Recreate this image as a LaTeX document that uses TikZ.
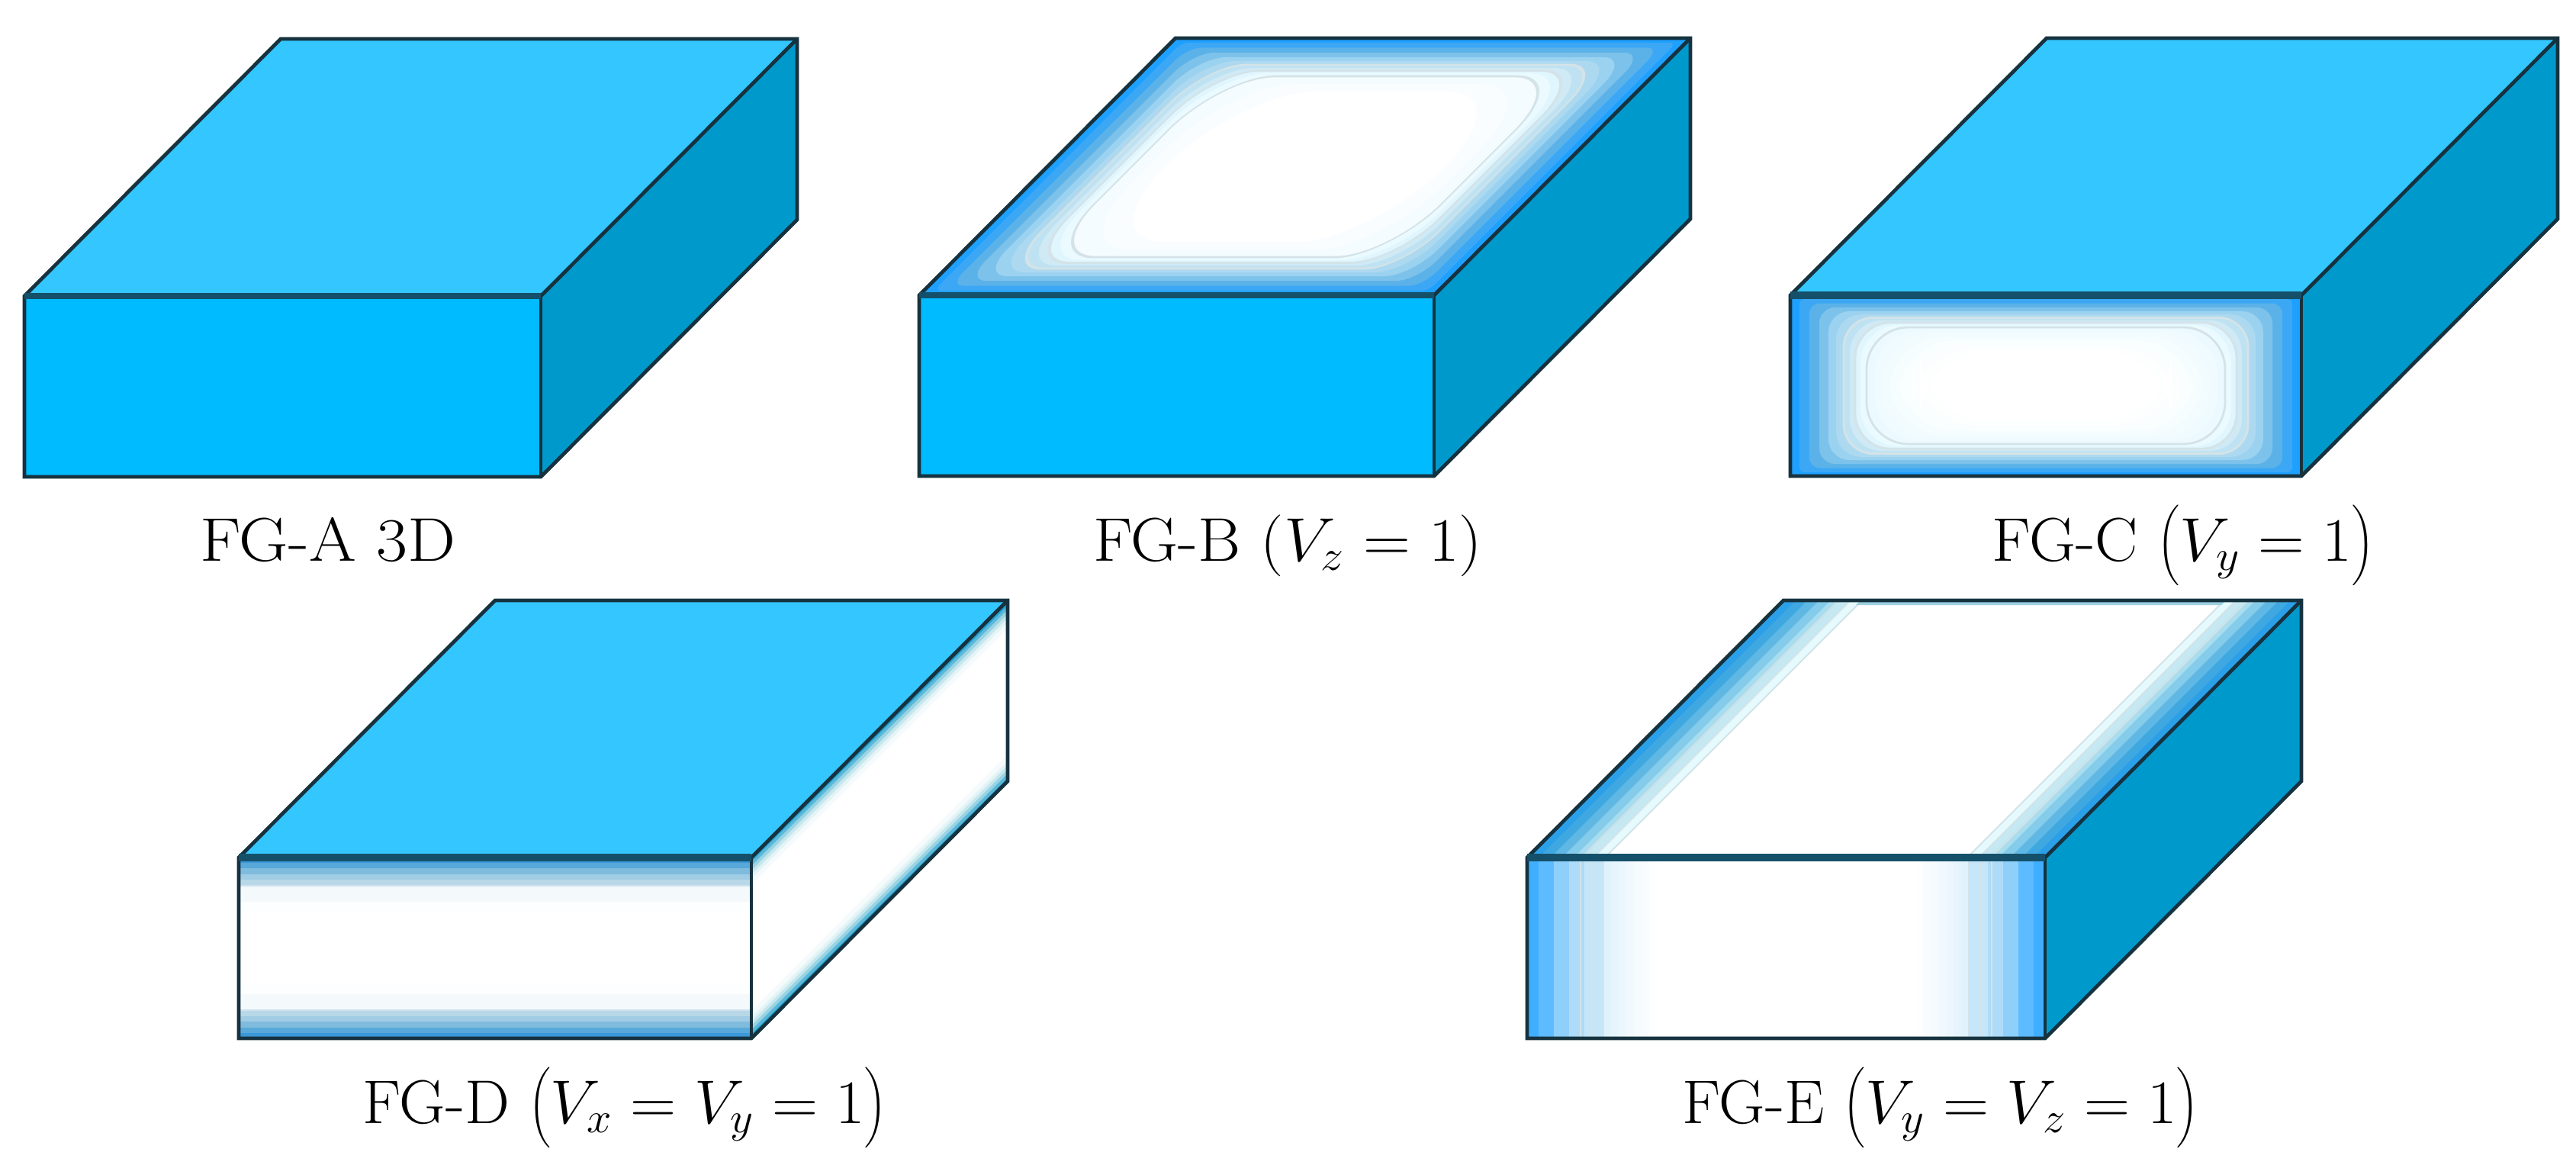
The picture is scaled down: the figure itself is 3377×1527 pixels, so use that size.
\documentclass[tikz,border=0pt]{standalone}
\usepackage{fix-cm}
\definecolor{topblue}{HTML}{33C6FF}
\definecolor{frontblue}{HTML}{00BBFF}
\definecolor{sideblue}{HTML}{0099CC}
\definecolor{edgedark}{HTML}{16323F}
\definecolor{edgetop}{HTML}{15506A}
\definecolor{contourgrey}{HTML}{D3E3E8}
% vivid stops
\definecolor{a0}{HTML}{1EA0FF}\definecolor{a1}{HTML}{3CA8F5}\definecolor{a2}{HTML}{5BB2E8}
\definecolor{a3}{HTML}{7DC2EA}\definecolor{a4}{HTML}{9BD2F0}\definecolor{a5}{HTML}{ADD9F0}
\definecolor{a6}{HTML}{BFE2F2}\definecolor{a7}{HTML}{CFE9F5}\definecolor{a8}{HTML}{E0F6FE}
\definecolor{a9}{HTML}{EAFAFF}\definecolor{a10}{HTML}{F5FCFF}\definecolor{a11}{HTML}{FAFDFF}
\definecolor{a12}{HTML}{FDFEFF}
% muted stops (FG-D)
\definecolor{d0}{HTML}{3A98D8}\definecolor{d1}{HTML}{58A8DA}\definecolor{d2}{HTML}{7FBBDD}
\definecolor{d3}{HTML}{A0CCE4}\definecolor{d4}{HTML}{B8D8E8}\definecolor{d5}{HTML}{CFE2EE}
\definecolor{d8}{HTML}{F4F9FB}
% FG-D side face stops
\definecolor{s0}{HTML}{1E9FD0}\definecolor{s1}{HTML}{5BB8D8}\definecolor{s2}{HTML}{9AD4E4}
\definecolor{s3}{HTML}{C6E7EE}\definecolor{s4}{HTML}{E4F4F6}\definecolor{s5}{HTML}{F5FBFC}
% FG-E front stops
\definecolor{f0}{HTML}{40AEFF}\definecolor{f1}{HTML}{5DBBFF}\definecolor{f2}{HTML}{8FD0FA}
\definecolor{f3}{HTML}{AEDBF7}\definecolor{f4}{HTML}{C5E6F8}\definecolor{f5}{HTML}{E0F2FC}
% FG-E top stops
\definecolor{e0}{HTML}{2BA0E8}\definecolor{e1}{HTML}{3FA8E0}\definecolor{e2}{HTML}{5FB8E4}
\definecolor{e3}{HTML}{85CBEA}\definecolor{e4}{HTML}{A8DCEF}\definecolor{e5}{HTML}{C4E9F2}
\definecolor{e6}{HTML}{E5FAFC}\definecolor{backpale}{HTML}{9CCFE0}
\def\stopsA{0/a0,0.12/a1,0.25/a2,0.38/a3,0.5/a4,0.6/a5,0.7/a6,0.78/a7,0.85/a8,0.92/a9,1/a10,1.2/a11,1.4/white}
\def\stopsC{0/a0,0.12/a1,0.25/a2,0.38/a3,0.5/a4,0.6/a5,0.7/a6,0.78/a7,0.85/a8,0.92/a9,1/a9!90!white,1.1/a9!75!white,1.2/a9!60!white,1.3/a9!45!white,1.4/a9!30!white,1.5/a9!20!white,1.6/a9!10!white,1.7/white}
\def\stopsT{0/e0,0.15/e1,0.3/e2,0.45/e3,0.6/e4,0.72/e5,0.85/e6,1/white}
\def\stopsF{0/f0,0.15/f1,0.35/f2,0.55/f3,0.75/f4,1/f5,1.1/f5!80!white,1.2/f5!60!white,1.3/f5!45!white,1.4/f5!30!white,1.5/f5!20!white,1.6/f5!10!white,1.7/white}
\def\stopsD{0/d0,0.2/d1,0.4/d2,0.6/d3,0.8/d4,1/d5,1.05/d8,1.6/a12,2/white}
\def\stopsS{0/s0,0.2/s1,0.4/s2,0.6/s3,0.8/s4,1/s5,1.3/white}
\tikzset{
  px/.style={x=0.01cm,y=-0.01cm},
  facetop/.style={fill=topblue},
  facefront/.style={fill=frontblue},
  faceside/.style={fill=sideblue},
  edgeline/.style={draw=edgedark,line width=1.35pt,line join=miter,fill=none},
  edgethick/.style={draw=edgetop,line width=2.1pt},
  edgewide/.style={draw=edgetop,line width=2.8pt},
  backband/.style={fill=backpale},
  contourline/.style={draw=contourgrey,line width=0.8pt,fill=none},
  caption/.style={inner sep=0pt,anchor=base,font=\fontsize{23}{28}\selectfont},
}
\newcommand{\tallstrut}{\rule[-0.4em]{0pt}{1.3em}}
% W H ix iy rmax stoplist
\newcommand{\nestbands}[6]{%
  \foreach \t/\c in #6 {%
    \pgfmathsetmacro{\dx}{\t*#3}\pgfmathsetmacro{\dy}{\t*#4}\pgfmathsetmacro{\rr}{0.2845*\t*#5}%
    \fill[fill=\c,rounded corners=\rr pt] (\dx,\dy) rectangle ({#1-\dx},{#2-\dy});
  }%
}
\newcommand{\nestlines}[5]{%
  \foreach \t in {0.7,0.85,1} {%
    \pgfmathsetmacro{\dx}{\t*#3}\pgfmathsetmacro{\dy}{\t*#4}\pgfmathsetmacro{\rr}{0.2845*\t*#5}%
    \draw[contourline,rounded corners=\rr pt] (\dx,\dy) rectangle ({#1-\dx},{#2-\dy});
  }%
}
% X(front left) Y(front top) W
\newcommand{\boxfaces}[3]{%
  \fill[facetop] (#1,#2) -- ++(336,-337) -- ++(#3,0) -- ++(-336,337) -- cycle;
  \fill[facefront] (#1,#2) rectangle ++(#3,237);
  \fill[faceside] ({#1+#3},#2) -- ++(336,-337) -- ++(0,237) -- ++(-336,337) -- cycle;
}
\newcommand{\boxedges}[3]{%
  \draw[edgeline] (#1,#2) -- ++(336,-337) -- ++(#3,0) -- ++(0,237) -- ++(-336,337) -- ++(-#3,0) -- cycle;
  \draw[edgeline] ({#1+#3},#2) -- ++(336,-337);
  \draw[edgeline] ({#1+#3},#2) -- ++(0,237);
  \draw[edgethick] (#1,#2) -- ++(#3,0);
}
\begin{document}
\begin{tikzpicture}[px]
\useasboundingbox (0,0) rectangle (3377,1527);
% FG-A
\boxfaces{32}{388}{677}
\boxedges{32}{388}{677}
\node[caption] (capA) at (430,735) {\scalebox{1.1}[1]{FG-A 3D}};
% FG-B
\boxfaces{1205}{387}{675}
\begin{scope}[transform canvas={shift={(1205,50)},xslant=1}]
  \begin{scope}[shift={(337,0)}]
  \nestbands{675}{337}{110}{50}{70}{\stopsA}
  \nestlines{675}{337}{110}{50}{70}
  \end{scope}
\end{scope}
\boxedges{1205}{387}{675}
\node[caption] (capB) at (1688,735) {\scalebox{1.06}[1]{FG-B $(V_z=1)$}};
% FG-C
\boxfaces{2347}{387}{670}
\begin{scope}[transform canvas={shift={(2347,387)}}]
  \nestbands{670}{237}{100}{42}{55}{\stopsC}
  \nestlines{670}{237}{100}{42}{55}
\end{scope}
\boxedges{2347}{387}{670}
\draw[edgewide] (2347,387) -- ++(670,0);
\node[caption] (capC) at (2862,735) {\scalebox{1.04}[1]{FG-C $\left(\tallstrut V_y=1\right)$}};
% FG-D
\boxfaces{313}{1124}{672}
\begin{scope}[transform canvas={shift={(313,1124)}}]
  \nestbands{672}{237}{0}{36}{0}{\stopsD}
\end{scope}
\fill[fill=white] (985,1124) -- ++(336,-337) -- ++(0,237) -- ++(-336,337) -- cycle;
\begin{scope}[transform canvas={shift={(985,1124)},yslant=1}]
  \nestbands{336}{237}{0}{28}{0}{\stopsS}
\end{scope}
\boxedges{313}{1124}{672}
\draw[edgewide] (313,1124) -- ++(672,0);
\node[caption] (capD) at (819,1472) {\scalebox{1.03}[1]{FG-D $\left(\tallstrut V_x=V_y=1\right)$}};
% FG-E
\boxfaces{2002}{1124}{679}
\begin{scope}[transform canvas={shift={(2002,787)},xslant=1}]
  \begin{scope}[shift={(337,0)}]
  \nestbands{679}{337}{102}{0}{0}{\stopsT}
  \nestlines{679}{337}{102}{0}{0}
  \fill[backband] (100,0) rectangle ++(479,6);
  \end{scope}
\end{scope}
\begin{scope}[transform canvas={shift={(2002,1124)}}]
  \nestbands{679}{237}{100}{0}{0}{\stopsF}
  \nestlines{679}{237}{100}{0}{0}
\end{scope}
\boxedges{2002}{1124}{679}
\draw[edgewide] (2002,1124) -- ++(679,0);
\node[caption] (capE) at (2544,1472) {\scalebox{1.03}[1]{FG-E $\left(\tallstrut V_y=V_z=1\right)$}};
\end{tikzpicture}
\end{document}
